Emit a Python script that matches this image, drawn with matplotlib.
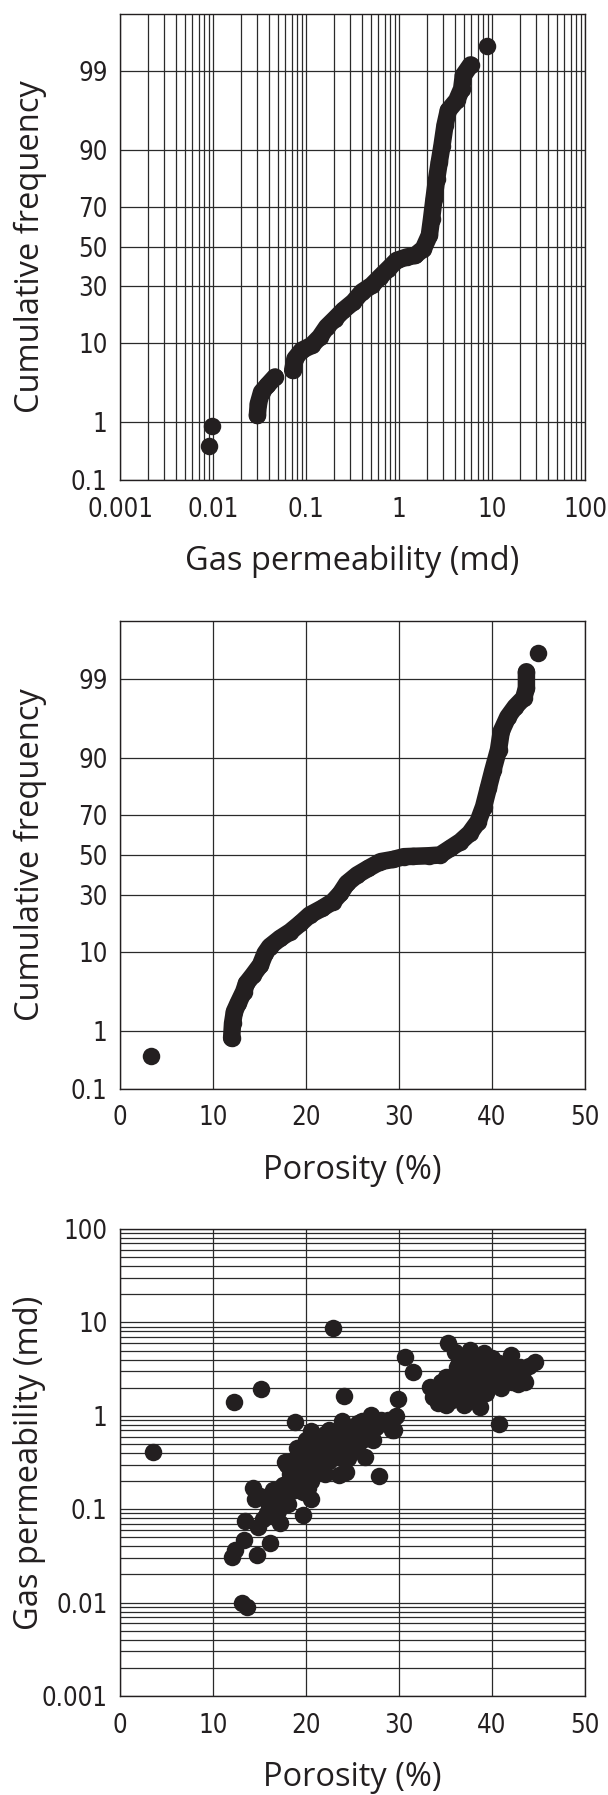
import numpy as np
import matplotlib
matplotlib.use("Agg")
import matplotlib.pyplot as plt
from matplotlib import font_manager as fm
from matplotlib.ticker import FixedLocator, NullLocator, LogLocator, FixedFormatter
from statistics import NormalDist

# ---------------- data ----------------
# Panel 1: cumulative frequency (%) vs gas permeability (md)
perm_low_k = [0.00913, 0.00967]
perm_low_cf = [0.41, 0.87]
perm_segA_k = [0.0300, 0.0307, 0.0333, 0.0384, 0.0464]
perm_segA_cf = [1.27, 1.88, 2.71, 3.31, 4.22]
perm_segB_k = [0.0719, 0.0761, 0.0898, 0.115, 0.141, 0.167, 0.205, 0.252, 0.323,
               0.397, 0.508, 0.624, 0.768, 0.943, 1.21, 1.49, 1.83, 2.12, 2.24,
               2.38, 2.54, 2.71, 2.90, 3.12, 3.39, 4.17, 4.72, 4.92, 5.89]
perm_segB_cf = [5.07, 6.90, 8.49, 9.56, 11.6, 14.4, 17.0, 20.0, 23.2,
                27.4, 30.4, 34.4, 38.5, 42.8, 44.6, 45.4, 49.0, 56.0, 64.5,
                73.8, 81.6, 86.9, 91.0, 94.6, 96.45, 97.37, 98.18, 98.84, 99.20]
perm_top_k = [8.91]
perm_top_cf = [99.61]

# Panel 2: cumulative frequency (%) vs porosity (%)
por_low_x = [3.3]
por_low_cf = [0.39]
por_seg_x = [12.0, 12.1, 12.3, 12.7, 13.3, 13.6, 14.3, 15.1, 15.6, 16.1, 17.2,
             18.3, 19.4, 20.4, 21.7, 22.9, 23.7, 24.4, 25.5, 26.7, 28.0, 29.4,
             30.5, 31.5, 33.2, 34.4, 35.5, 36.6, 37.6, 38.5, 39.1, 39.6, 40.1,
             40.7, 41.0, 41.7, 42.5, 43.4, 43.7, 43.7]
por_seg_cf = [0.77, 1.30, 1.92, 2.49, 3.54, 4.49, 5.63, 7.30, 9.68, 11.3, 13.5,
              15.5, 18.3, 21.4, 24.0, 26.9, 30.6, 35.4, 39.6, 43.0, 46.5, 47.7,
              49.1, 49.3, 49.6, 50.0, 53.5, 57.0, 61.3, 67.0, 73.9, 81.1, 86.9,
              91.8, 94.9, 96.6, 97.5, 98.1, 98.62, 99.23]
por_top_x = [44.9]
por_top_cf = [99.62]

# Panel 3: gas permeability (md) vs porosity (%)
scat_por = [3.5,
            22.9, 15.2, 12.3, 24.1, 18.8, 20.5, 22.0, 23.9, 25.6, 27.0, 28.8, 29.2,
            19.0, 17.7, 19.5, 21.0, 22.8, 24.6, 26.3, 22.0, 23.5, 27.8, 18.3, 14.3,
            14.5, 16.5, 19.7, 18.1, 19.7, 13.4, 15.4, 17.2, 16.1, 13.3, 12.0, 14.7,
            13.1, 13.7, 12.4,
            20.0, 21.5, 23.0, 24.0, 25.0, 26.0, 27.5, 21.0, 20.5, 19.0, 17.5, 16.0,
            15.0, 17.0, 22.5, 24.5, 25.5, 26.8, 18.5, 20.5,
            18.0, 19.5, 20.0, 20.8, 21.8, 22.3, 23.2, 23.8, 24.8, 25.3, 26.5, 27.2,
            21.2, 22.5, 20.2, 18.8, 17.8, 16.8, 15.8, 14.8, 16.5, 26.0, 24.3,
            35.3, 30.6, 31.5, 29.9, 29.7, 29.5, 28.1, 40.7, 33.3, 34.2, 37.1, 38.7,
            44.6, 43.6, 42.0, 39.1, 36.7, 35.1, 36.9, 38.7, 40.5, 42.1, 37.6, 39.4,
            36.2, 38.3, 40.8, 43.0, 34.8, 33.7, 35.8, 39.8, 37.6,
            36.0, 38.0, 39.5, 41.5, 37.0, 40.0, 35.5, 41.0, 36.5, 38.5,
            34.5, 35.0, 36.0, 36.5, 37.5, 38.0, 38.8, 39.0, 39.7, 40.2, 40.8, 41.3,
            41.8, 42.5, 43.2, 37.2, 36.0, 38.2, 37.0, 35.0, 34.0, 44.0, 42.8]
scat_perm = [0.41,
             8.8, 1.92, 1.40, 1.64, 0.86, 0.69, 0.64, 0.885, 0.83, 1.02, 0.90, 0.70,
             0.45, 0.32, 0.31, 0.40, 0.43, 0.51, 0.365, 0.24, 0.23, 0.228, 0.24, 0.17,
             0.13, 0.16, 0.154, 0.115, 0.086, 0.075, 0.078, 0.072, 0.044, 0.047, 0.031,
             0.032, 0.010, 0.009, 0.037,
             0.55, 0.50, 0.60, 0.70, 0.62, 0.55, 0.75, 0.28, 0.20, 0.20, 0.18, 0.11,
             0.14, 0.095, 0.33, 0.35, 0.45, 0.60, 0.33, 0.13,
             0.30, 0.25, 0.35, 0.45, 0.38, 0.52, 0.45, 0.35, 0.42, 0.75, 0.70, 0.55,
             0.60, 0.70, 0.17, 0.16, 0.14, 0.13, 0.09, 0.065, 0.085, 0.88, 0.25,
             6.05, 4.22, 2.94, 1.53, 1.00, 0.70, 0.90, 0.81, 2.05, 1.38, 1.36, 1.25,
             3.79, 2.32, 4.47, 4.66, 4.29, 2.62, 2.62, 2.84, 2.62, 2.32, 1.89, 1.74,
             3.35, 3.49, 3.64, 3.35, 1.67, 1.60, 1.89, 2.13, 5.06,
             2.2, 2.4, 3.0, 2.9, 3.9, 4.2, 1.45, 2.0, 1.6, 1.8,
             2.3, 1.9, 2.8, 3.7, 2.9, 3.1, 2.2, 4.0, 2.6, 3.2, 2.4, 3.3,
             2.5, 3.0, 2.8, 4.5, 4.8, 1.5, 1.3, 1.3, 1.9, 3.4, 2.2]

cf_ticks = [0.1, 1, 10, 30, 50, 70, 90, 99]
cf_tick_labels = ["0.1", "1", "10", "30", "50", "70", "90", "99"]
perm_ticks = [0.001, 0.01, 0.1, 1, 10, 100]
perm_tick_labels = ["0.001", "0.01", "0.1", "1", "10", "100"]
por_ticks = [0, 10, 20, 30, 40, 50]
por_tick_labels = ["0", "10", "20", "30", "40", "50"]

# ---------------- fonts ----------------
_entries = fm.fontManager.ttflist
_names = {f.name for f in _entries}
if "Liberation Sans Narrow" in _names:
    TICK_FAMILY, TICK_STRETCH, TICK_SIZE = ["Liberation Sans Narrow", "DejaVu Sans"], "normal", 20.5
elif any(f.name == "DejaVu Sans" and str(f.stretch) == "condensed" for f in _entries):
    TICK_FAMILY, TICK_STRETCH, TICK_SIZE = ["DejaVu Sans"], "condensed", 18.5
elif "Roboto Condensed" in _names:
    TICK_FAMILY, TICK_STRETCH, TICK_SIZE = ["Roboto Condensed", "DejaVu Sans"], "normal", 20.5
else:
    TICK_FAMILY, TICK_STRETCH, TICK_SIZE = ["Roboto", "DejaVu Sans"], "normal", 19

LABEL_FAMILY = ["Open Sans", "DejaVu Sans"]
LABEL_SIZE = 23.5

# ---------------- style ----------------
INK = "#231f20"
GRID = "#2a2a2a"
MS = 12.6

W, H = 608, 1795
fig = plt.figure(figsize=(W / 100, H / 100), dpi=100)

_nd = NormalDist()


def _fwd(p):
    p = np.clip(np.asarray(p, dtype=float) / 100.0, 1e-9, 1 - 1e-9)
    return np.vectorize(_nd.inv_cdf, otypes=[float])(p)


def _inv(z):
    z = np.asarray(z, dtype=float)
    return np.vectorize(_nd.cdf, otypes=[float])(z) * 100.0


def make_axes(top_px, bottom_px):
    left, right = 120, 585
    return fig.add_axes([left / W, 1 - bottom_px / H, (right - left) / W,
                         (bottom_px - top_px) / H])


def style_common(ax):
    for s in ax.spines.values():
        s.set_color(INK)
        s.set_linewidth(1.0)
    ax.tick_params(which="both", length=0)
    ax.tick_params(axis="x", pad=12)
    ax.tick_params(axis="y", pad=9)
    for lab in ax.get_xticklabels() + ax.get_yticklabels():
        lab.set_fontfamily(TICK_FAMILY)
        lab.set_fontstretch(TICK_STRETCH)
        lab.set_fontsize(TICK_SIZE)
        lab.set_color(INK)
    ax.set_axisbelow(True)


def prob_yaxis(ax):
    ax.set_yscale("function", functions=(_fwd, _inv))
    ax.set_ylim(0.1, 99.9)
    ax.yaxis.set_major_locator(FixedLocator(cf_ticks))
    ax.yaxis.set_major_formatter(FixedFormatter(cf_tick_labels))
    ax.yaxis.set_minor_locator(NullLocator())
    ax.grid(True, axis="y", which="major", color=GRID, lw=0.9)


def curve(ax, x, y):
    ax.plot(x, y, "-", color=INK, lw=MS, solid_capstyle="round",
            solid_joinstyle="round", zorder=3)
    ax.plot(x, y, "o", color=INK, ms=MS, mec="none", zorder=3)


def dots(ax, x, y):
    ax.plot(x, y, "o", color=INK, ms=MS, mec="none", ls="none", zorder=3)


def xlabel(text, bottom_px):
    fig.text(352.5 / W, 1 - (bottom_px + 90) / H, text, ha="center",
             va="baseline", fontfamily=LABEL_FAMILY,
             fontsize=LABEL_SIZE, color=INK)


def ylabel(text, top_px, bottom_px):
    fig.text(30 / W, 1 - (top_px + bottom_px) / 2 / H, text, ha="center",
             va="center", rotation=90, fontfamily=LABEL_FAMILY,
             fontsize=LABEL_SIZE, color=INK)


# ---------------- panel 1 ----------------
ax1 = make_axes(13.5, 480)
ax1.set_xscale("log")
ax1.set_xlim(0.001, 100)
prob_yaxis(ax1)
ax1.xaxis.set_major_locator(FixedLocator(perm_ticks))
ax1.xaxis.set_major_formatter(FixedFormatter(perm_tick_labels))
ax1.xaxis.set_minor_locator(LogLocator(base=10, subs=np.arange(2, 10), numticks=50))
ax1.grid(True, axis="x", which="both", color=GRID, lw=0.9)
dots(ax1, perm_low_k, perm_low_cf)
curve(ax1, perm_segA_k, perm_segA_cf)
curve(ax1, perm_segB_k, perm_segB_cf)
dots(ax1, perm_top_k, perm_top_cf)
style_common(ax1)
xlabel("Gas permeability (md)", 480)
ylabel("Cumulative frequency", 13.5, 480)

# ---------------- panel 2 ----------------
ax2 = make_axes(621.3, 1088.7)
ax2.set_xlim(0, 50)
prob_yaxis(ax2)
ax2.xaxis.set_major_locator(FixedLocator(por_ticks))
ax2.xaxis.set_major_formatter(FixedFormatter(por_tick_labels))
ax2.grid(True, axis="x", which="major", color=GRID, lw=0.9)
dots(ax2, por_low_x, por_low_cf)
curve(ax2, por_seg_x, por_seg_cf)
dots(ax2, por_top_x, por_top_cf)
style_common(ax2)
xlabel("Porosity (%)", 1088.7)
ylabel("Cumulative frequency", 621.3, 1088.7)

# ---------------- panel 3 ----------------
ax3 = make_axes(1229, 1696)
ax3.set_xlim(0, 50)
ax3.set_yscale("log")
ax3.set_ylim(0.001, 100)
ax3.xaxis.set_major_locator(FixedLocator(por_ticks))
ax3.xaxis.set_major_formatter(FixedFormatter(por_tick_labels))
ax3.yaxis.set_major_locator(FixedLocator(perm_ticks))
ax3.yaxis.set_major_formatter(FixedFormatter(perm_tick_labels))
ax3.yaxis.set_minor_locator(LogLocator(base=10, subs=np.arange(2, 10), numticks=50))
ax3.grid(True, axis="x", which="major", color=GRID, lw=0.9)
ax3.grid(True, axis="y", which="both", color=GRID, lw=0.9)
dots(ax3, scat_por, scat_perm)
style_common(ax3)
xlabel("Porosity (%)", 1696)
ylabel("Gas permeability (md)", 1229, 1696)

fig.savefig("out.png", dpi=100, facecolor="white")
